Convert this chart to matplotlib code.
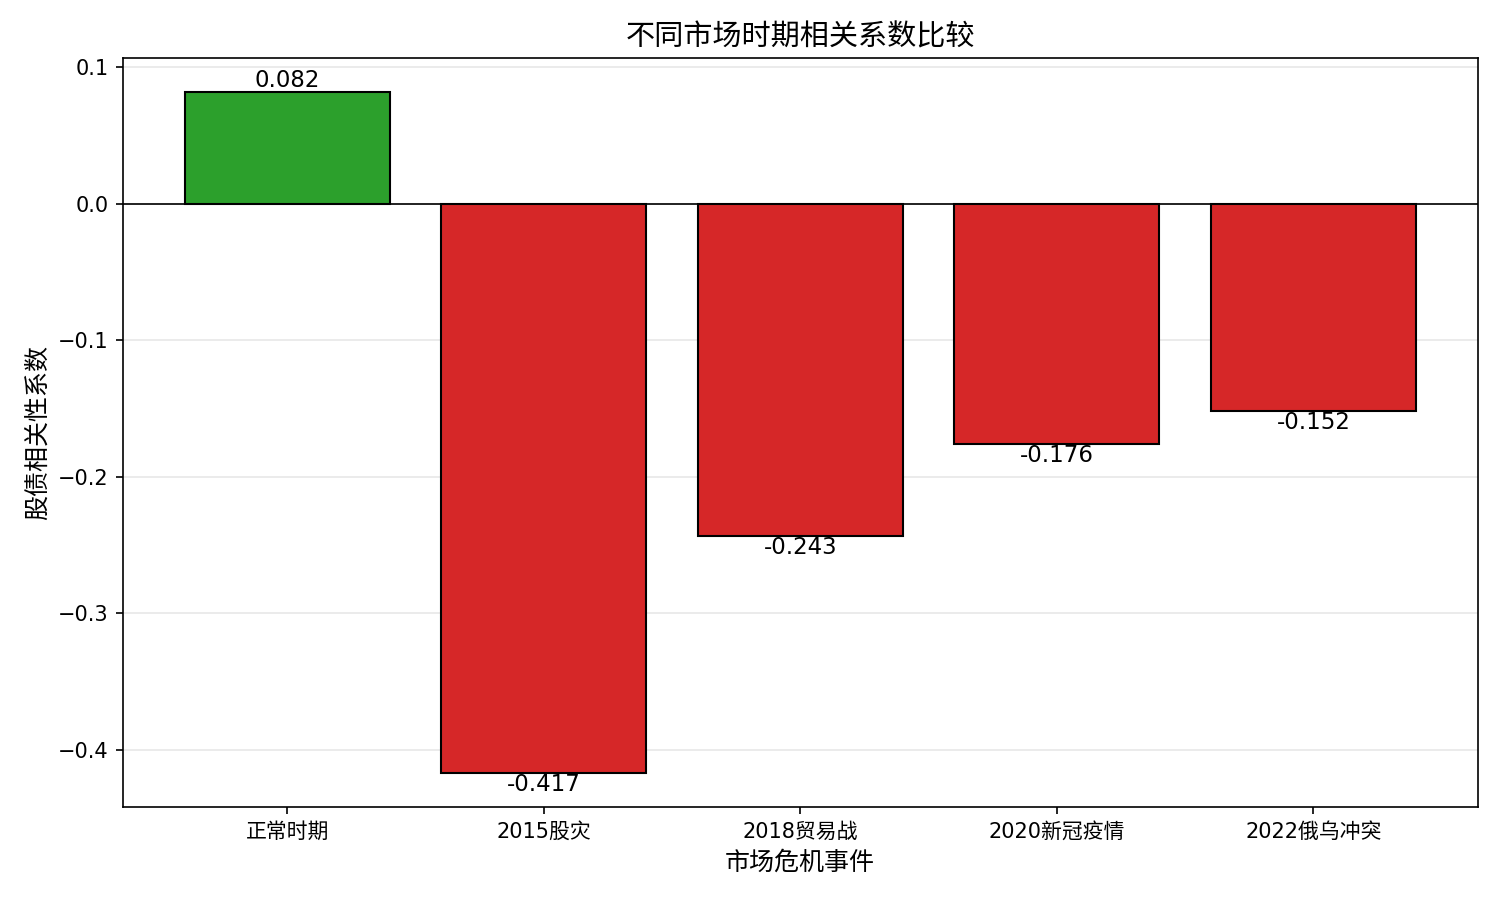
import matplotlib
matplotlib.use("Agg")
import matplotlib.pyplot as plt

plt.rcParams['font.family'] = ['DejaVu Sans', 'Noto Sans CJK SC']
plt.rcParams['axes.unicode_minus'] = True

periods = ["正常时期", "2015股灾", "2018贸易战", "2020新冠疫情", "2022俄乌冲突"]
values = [0.082, -0.417, -0.243, -0.176, -0.152]

colors = ["#2ca02c" if v > 0 else "#d62728" for v in values]

fig, ax = plt.subplots(figsize=(10, 6), dpi=150)
fig.subplots_adjust(left=0.082, right=0.985, top=0.936, bottom=0.103)

bars = ax.bar(periods, values, width=0.8, color=colors, edgecolor="black", linewidth=1)
ax.axhline(0, color="black", linewidth=0.8)
ax.grid(axis="y", alpha=0.3)
ax.set_axisbelow(True)

for b, v in zip(bars, values):
    x = b.get_x() + b.get_width() / 2
    ax.text(x, v, f"{v:.3f}", ha="center", va="bottom" if v > 0 else "top",
            fontsize=11)

ax.set_title("不同市场时期相关系数比较", fontsize=14)
ax.set_xlabel("市场危机事件", fontsize=12)
ax.set_ylabel("股债相关性系数", fontsize=12)

fig.savefig("out.png")
